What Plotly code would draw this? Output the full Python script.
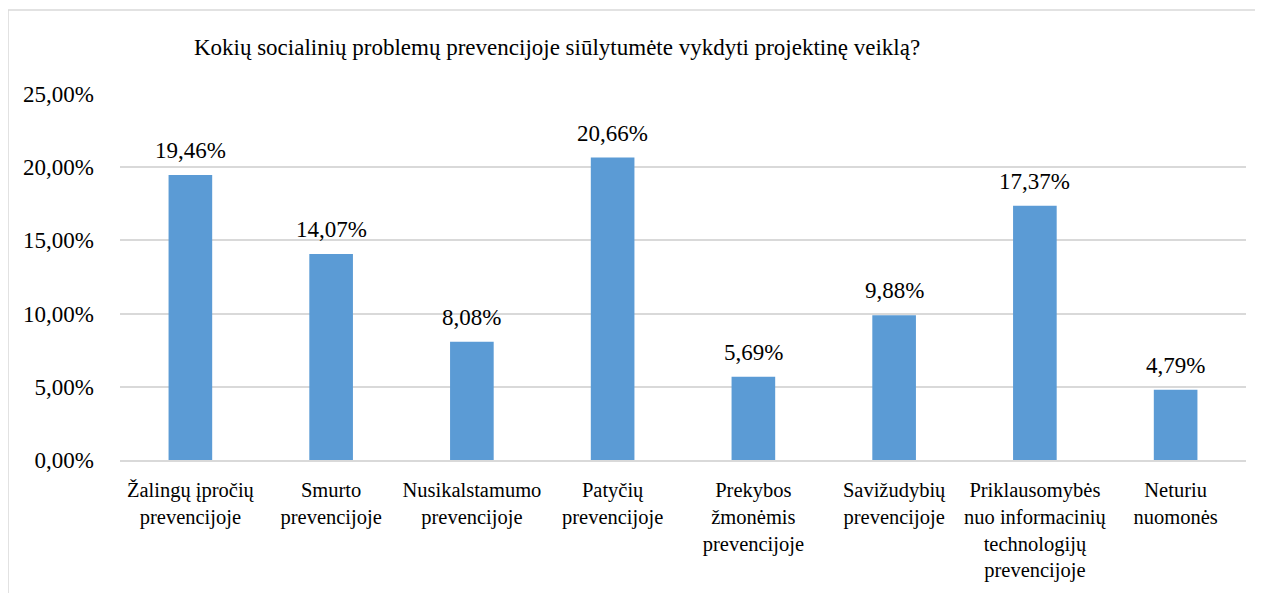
import plotly.graph_objects as go

categories = [
    "Žalingų įpročių<br>prevencijoje",
    "Smurto<br>prevencijoje",
    "Nusikalstamumo<br>prevencijoje",
    "Patyčių<br>prevencijoje",
    "Prekybos<br>žmonėmis<br>prevencijoje",
    "Savižudybių<br>prevencijoje",
    "Priklausomybės<br>nuo informacinių<br>technologijų<br>prevencijoje",
    "Neturiu<br>nuomonės",
]
values = [0.1946, 0.1407, 0.0808, 0.2066, 0.0569, 0.0988, 0.1737, 0.0479]
y_ticks = [0, 0.05, 0.10, 0.15, 0.20, 0.25]
title_text = "Kokių socialinių problemų prevencijoje siūlytumėte vykdyti projektinę veiklą?"

FONT = "Liberation Serif"
TXT = "#000000"
OFF = 8  # page body margin
W, H = 1263 - OFF, 593 - OFF
L, T = 120 - OFF, 94 - OFF
R = W - (1246 - OFF)
B = H - (460 - OFF)
pw, ph = W - L - R, H - T - B

fig = go.Figure()
fig.add_trace(go.Bar(
    x=categories, y=values,
    marker=dict(color="#5B9BD5", line=dict(width=0)),
    width=0.31,
    hoverinfo="skip",
))

for c, v in zip(categories, values):
    fig.add_annotation(
        x=c, y=v, text=f"{v*100:.2f}%".replace(".", ","),
        showarrow=False, yanchor="bottom", yshift=10,
        font=dict(family=FONT, size=23, color=TXT),
    )

# outer chart border
fig.add_shape(
    type="rect", xref="paper", yref="paper",
    x0=(0 - L) / pw, x1=(W + 20 - L) / pw,
    y0=-(B + 20) / ph, y1=(H - B - (10 - OFF)) / ph,
    line=dict(color="#d9d9d9", width=1.5), fillcolor="rgba(0,0,0,0)",
    layer="below",
)

fig.update_layout(
    width=W, height=H,
    margin=dict(l=L, r=R, t=T, b=B, autoexpand=False),
    paper_bgcolor="white", plot_bgcolor="white",
    separators=",.",
    showlegend=False,
    font=dict(family=FONT, color=TXT),
    title=dict(
        text=title_text, x=(557 - OFF) / W, xanchor="center",
        y=1 - (47 - OFF) / H, yanchor="middle", yref="container",
        font=dict(family=FONT, size=23, color=TXT),
    ),
    xaxis=dict(
        showline=True, linecolor="#d9d9d9", linewidth=1.5,
        ticks="", showgrid=False,
        ticklabelstandoff=11,
        tickfont=dict(family=FONT, size=20.5, color=TXT),
        fixedrange=True, automargin=False,
    ),
    yaxis=dict(
        range=[0, 0.25], tickvals=y_ticks, tickformat=".2%",
        showgrid=True, gridcolor="#d9d9d9", gridwidth=1.5,
        zeroline=False, showline=False, ticks="",
        ticklabelstandoff=25,
        tickfont=dict(family=FONT, size=23, color=TXT),
        fixedrange=True, automargin=False,
    ),
)

fig.write_html("out.html")
